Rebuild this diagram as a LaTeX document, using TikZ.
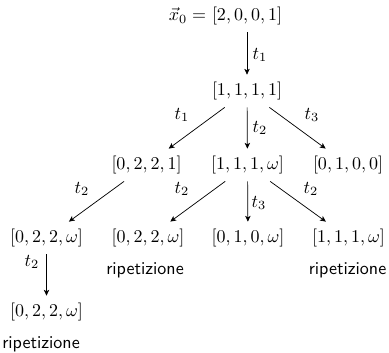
\documentclass[tikz,border=0pt]{standalone}
\usetikzlibrary{arrows.meta}
\begin{document}
\begin{tikzpicture}[x=0.5556pt,y=-0.5556pt,
  mnode/.style={rectangle,inner xsep=2pt,inner ysep=3.9pt},
  lab/.style={inner sep=0pt},
  rip/.style={inner sep=0pt,font=\sffamily},
  arr/.style={-{Stealth[length=3.2pt,width=3pt,inset=0.8pt]},line width=0.4pt}]
\useasboundingbox (0,0) rectangle (389,352);
% nodes
\node[mnode] (r0) at (247,16) {$[2,0,0,1]$};
\node[anchor=base east,inner sep=0pt] (x0) at ([xshift=-0.8pt]r0.base west) {$\vec{x}_0 =$};
\node[mnode] (r1) at (247,91) {$[1,1,1,1]$};
\node[mnode] (a) at (146.5,165) {$[0,2,2,1]$};
\node[mnode] (b) at (247.5,165) {$[1,1,1,\omega]$};
\node[mnode] (c) at (348,165) {$[0,1,0,0]$};
\node[mnode] (d) at (46.5,238) {$[0,2,2,\omega]$};
\node[mnode] (e) at (148,238) {$[0,2,2,\omega]$};
\node[mnode] (f) at (248,238) {$[0,1,0,\omega]$};
\node[mnode] (g) at (348.5,238) {$[1,1,1,\omega]$};
\node[mnode] (h) at (46.5,312) {$[0,2,2,\omega]$};
\node[rip] (re) at (145,270) {ripetizione};
\node[rip] (rg) at (347.5,270) {ripetizione};
\node[rip] (rh) at (41,344) {ripetizione};
% arrows
\draw[arr] (r0) -- (r1);
\draw[arr] (r1) -- (a);
\draw[arr] (r1) -- (b);
\draw[arr] (r1) -- (c);
\draw[arr] (a) -- (d);
\draw[arr] (b) -- (e);
\draw[arr] (b) -- (f);
\draw[arr] (b) -- (g);
\draw[arr] (d) -- (h);
% labels
\node[lab] (l1) at (260,55) {$t_1$};
\node[lab] (l2) at (182,115) {$t_1$};
\node[lab] (l3) at (260,128) {$t_2$};
\node[lab] (l4) at (312,115) {$t_3$};
\node[lab] (l5) at (82,189) {$t_2$};
\node[lab] (l6) at (182,189) {$t_2$};
\node[lab] (l7) at (259,203) {$t_3$};
\node[lab] (l8) at (311,189) {$t_2$};
\node[lab] (l9) at (32,262) {$t_2$};
\end{tikzpicture}
\end{document}
